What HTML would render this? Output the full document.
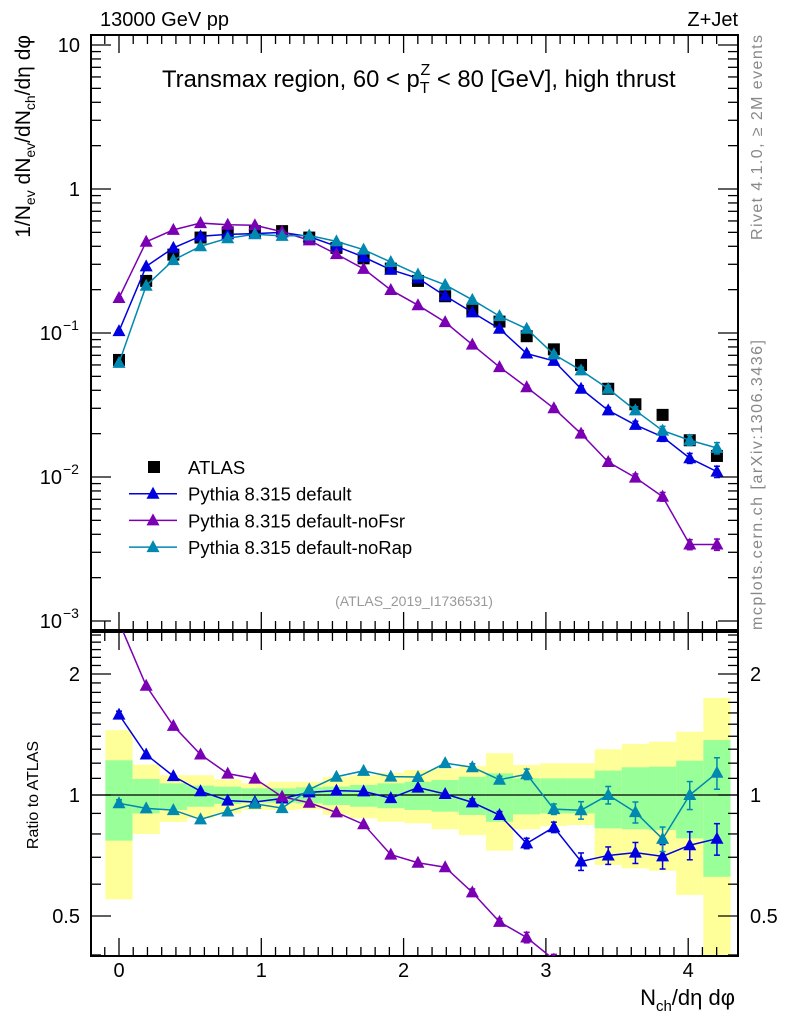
<!DOCTYPE html>
<html><head><meta charset="utf-8"><style>
html,body{margin:0;background:#fff;width:786px;height:1024px;overflow:hidden;font-family:"Liberation Sans",sans-serif}
svg{display:block;overflow:hidden}
svg text{font-family:"Liberation Sans","DejaVu Sans",sans-serif}
</style></head><body>
<svg id="c" width="786" height="1024" xmlns="http://www.w3.org/2000/svg"></svg>
<script>
const xCat=[0,1,2,3,4,5,6,7,8,9,10,11,12,13,14,15,16,17,18,19,20,21,22];
const binWidth=0.191;
const atlas=[0.065,0.23,0.35,0.46,0.50,0.51,0.51,0.46,0.39,0.33,0.28,0.23,0.18,0.145,0.12,0.095,0.077,0.060,0.041,0.032,0.027,0.018,0.014];
const pyDefault=[0.103,0.29,0.39,0.47,0.484,0.49,0.50,0.467,0.40,0.337,0.275,0.24,0.181,0.139,0.107,0.072,0.064,0.041,0.029,0.023,0.019,0.0135,0.0109];
const pyNoFsr=[0.175,0.43,0.52,0.58,0.565,0.56,0.505,0.44,0.353,0.279,0.199,0.156,0.119,0.083,0.058,0.042,0.030,0.020,0.0127,0.0099,0.0073,0.0034,0.0034];
const pyNoRap=[0.062,0.213,0.321,0.40,0.455,0.485,0.473,0.475,0.433,0.379,0.311,0.255,0.216,0.170,0.131,0.107,0.071,0.055,0.041,0.029,0.021,0.018,0.0159];
const mcRelErr=[0.02,0.01,0.01,0.01,0.01,0.01,0.01,0.01,0.01,0.01,0.01,0.01,0.01,0.02,0.02,0.03,0.03,0.05,0.05,0.06,0.07,0.08,0.09];
const yellowHi=[1.45,1.19,1.12,1.12,1.094,1.069,1.079,1.079,1.11,1.12,1.136,1.154,1.165,1.18,1.27,1.188,1.199,1.199,1.30,1.34,1.357,1.437,1.745];
const yellowLo=[0.55,0.80,0.857,0.875,0.90,0.918,0.918,0.921,0.892,0.875,0.858,0.850,0.822,0.795,0.727,0.822,0.837,0.842,0.67,0.657,0.648,0.564,0.3];
const greenHi=[1.22,1.096,1.069,1.055,1.049,1.039,1.039,1.045,1.049,1.059,1.069,1.079,1.09,1.11,1.132,1.10,1.10,1.10,1.15,1.172,1.176,1.217,1.37];
const greenLo=[0.77,0.90,0.918,0.935,0.95,0.957,0.957,0.953,0.944,0.935,0.927,0.918,0.909,0.892,0.858,0.895,0.90,0.90,0.826,0.822,0.818,0.78,0.626];
const xTicks=[0,1,2,3,4];
const mainTicks=[10,1,0.1,0.01,0.001];
const mainTickLabels=["10","1","10","10","10"];
const mainTickExp=["","","−1","−2","−3"];
const ratioTicks=[2,1,0.5];
const ratioTickLabels=["2","1","0.5"];

const NS="http://www.w3.org/2000/svg";
const svg=document.getElementById('c');
const L=91,R=738,T=35,MB=630,RT=632,RB=956;
const X=v=>119+142.3*v;
const Xi=i=>X(i*binWidth);
const Ym=v=>189-144*Math.log10(v);
const Yr=r=>Math.min(RB,Math.max(RT,795-402*Math.log10(r)));
function el(tag,attrs,parent){const e=document.createElementNS(NS,tag);for(const k in attrs)e.setAttribute(k,attrs[k]);(parent||svg).appendChild(e);return e;}
function txt(s,x,y,attrs,parent){const t=el('text',Object.assign({x:x,y:y},attrs),parent);t.textContent=s;return t;}

const defs=el('defs',{});
const cp=el('clipPath',{id:'rclip'},defs);
el('rect',{x:L,y:RT,width:R-L,height:RB-RT},cp);

const bands=el('g',{});


xCat.forEach(i=>{
 const x0=Math.max(L+1,Xi(i)-binWidth/2*142.3), x1=Math.min(R-1,Xi(i)+binWidth/2*142.3);
 const y1=el('rect',{x:x0,y:Yr(yellowHi[i]),width:x1-x0,height:Yr(yellowLo[i])-Yr(yellowHi[i]),fill:'#ffff99'},bands);
 
 
 const g1=el('rect',{x:x0,y:Yr(greenHi[i]),width:x1-x0,height:Yr(greenLo[i])-Yr(greenHi[i]),fill:'#99ff99'},bands);
 
 
});
const oneLine=el('line',{x1:L,x2:R,y1:Yr(1),y2:Yr(1),stroke:'#000','stroke-width':1.2});



const f1=el('rect',{x:L,y:T,width:R-L,height:MB-T,fill:'none',stroke:'#000','stroke-width':2});


const f2=el('rect',{x:L,y:RT,width:R-L,height:RB-RT,fill:'none',stroke:'#000','stroke-width':2});



const ax=el('g',{stroke:'#000','stroke-width':1.3});


for(let v=-0.2;v<=4.3;v+=0.1){
 const vv=Math.round(v*10)/10; const x=X(vv); if(x<L||x>R)continue;
 const major=Math.abs(vv-Math.round(vv))<1e-6; const len=major?18:9;
 [[T,1],[MB,-1],[RT,1],[RB,-1]].forEach(([y,d])=>el('line',{x1:x,x2:x,y1:y,y2:y+d*len},ax));
}
for(let d=-3;d<=1;d++){
 for(let m=1;m<10;m++){
  const v=m*Math.pow(10,d); const y=Ym(v); if(y<T||y>MB)continue;
  const len=m==1?20:10;
  el('line',{x1:L,x2:L+len,y1:y,y2:y},ax); el('line',{x1:R,x2:R-len,y1:y,y2:y},ax);
 }
}
for(let r=0.3;r<=2.6;r+=0.1){
 const rr=Math.round(r*10)/10;const y=795-402*Math.log10(rr); if(y<RT||y>RB)continue;
 const major=[0.5,1,2].includes(rr); const len=major?20:10;
 el('line',{x1:L,x2:L+len,y1:y,y2:y},ax); el('line',{x1:R,x2:R-len,y1:y,y2:y},ax);
}
xTicks.forEach(v=>{const t=txt(String(v),X(v),977,{'font-size':20,'text-anchor':'middle'});});
mainTicks.forEach((v,k)=>{
 const t=txt(mainTickLabels[k],mainTickExp[k]?62:80,Ym(v)+7,{'font-size':20,'text-anchor':'end'});
 
 
 if(mainTickExp[k]){const e=txt(mainTickExp[k],63,Ym(v)-3,{'font-size':14});}
});
ratioTicks.forEach((v,k)=>{
 const t=txt(ratioTickLabels[k],80,Yr(v)+7,{'font-size':20,'text-anchor':'end'});
 
 
 const t2=txt(ratioTickLabels[k],750,Yr(v)+7,{'font-size':20});
 
 
});

function tri(x,y,c,p){return el('polygon',{points:`${x},${y-7} ${x-6.5},${y+5} ${x+6.5},${y+5}`,fill:c},p);}
function series(vals,color,name){
 const g=el('g',{});
 
 
 const pts=vals.map((v,i)=>[Xi(i),Ym(v)]);
 el('polyline',{points:pts.map(p=>p.join(',')).join(' '),fill:'none',stroke:color,'stroke-width':1.5},g);
 vals.forEach((v,i)=>{
  const e=mcRelErr[i]; if(e>0.015){const y1=Ym(v*(1+e)),y2=Ym(v*(1-e));const x=Xi(i);
   el('line',{x1:x,x2:x,y1:y1,y2:y2,stroke:color,'stroke-width':1.5},g);
   el('line',{x1:x-3,x2:x+3,y1:y1,y2:y1,stroke:color,'stroke-width':1.5},g);
   el('line',{x1:x-3,x2:x+3,y1:y2,y2:y2,stroke:color,'stroke-width':1.5},g);}
  const m=tri(pts[i][0],pts[i][1],color,g);
  
  
 });
 const gr=el('g',{'clip-path':'url(#rclip)'});
 
 
 const rp=vals.map((v,i)=>[Xi(i),795-402*Math.log10(v/atlas[i])]);
 el('polyline',{points:rp.map(p=>p.join(',')).join(' '),fill:'none',stroke:color,'stroke-width':1.5},gr);
 vals.forEach((v,i)=>{
  const r=v/atlas[i],e=mcRelErr[i],x=rp[i][0];
  if(e>0.015){const y1=795-402*Math.log10(r*(1+e)),y2=795-402*Math.log10(r*(1-e));
   el('line',{x1:x,x2:x,y1:y1,y2:y2,stroke:color,'stroke-width':1.5},gr);
   el('line',{x1:x-3,x2:x+3,y1:y1,y2:y1,stroke:color,'stroke-width':1.5},gr);
   el('line',{x1:x-3,x2:x+3,y1:y2,y2:y2,stroke:color,'stroke-width':1.5},gr);}
  const m=tri(x,rp[i][1],color,gr);
  
  
 });
}

const ga=el('g',{});


atlas.forEach((v,i)=>{
 const s=el('rect',{x:Xi(i)-6,y:Ym(v)-6,width:12,height:12,fill:'#000'},ga);
 
 
});
series(pyDefault,'#0000e0','pythia-default');
series(pyNoFsr,'#7b00b4','pythia-nofsr');
series(pyNoRap,'#0088b0','pythia-norap');

const lg=el('g',{});


const leg=[['ATLAS','#000',true],['Pythia 8.315 default','#0000e0'],['Pythia 8.315 default-noFsr','#7b00b4'],['Pythia 8.315 default-noRap','#0088b0']];
leg.forEach((e,k)=>{
 const y=467+26.7*k;
 const it=el('g',{},lg);
 
 
 if(e[2]) el('rect',{x:148,y:y-6,width:12,height:12,fill:'#000'},it);
 else {el('line',{x1:129,x2:177,y1:y,y2:y,stroke:e[1],'stroke-width':1.5},it);tri(153,y,e[1],it);}
 txt(e[0],188,y+7,{'font-size':18.5},it);
});
function lbl(s,x,y,a,name){const t=txt(s,x,y,a);return t;}
lbl('13000 GeV pp',100,26,{'font-size':20},'energy-label');
lbl('Z+Jet',738,26,{'font-size':20,'text-anchor':'end'},'process-label');
const ti=lbl('',162,87,{'font-size':23.8},'plot-title');
ti.innerHTML='Transmax region, 60 &lt; p<tspan font-size="16" dy="6">T</tspan><tspan font-size="16" dx="-9" dy="-18">Z</tspan><tspan dy="12"> &lt; 80 [GeV], high thrust</tspan>';
const xl=lbl('',735,1005,{'font-size':22,'text-anchor':'end'},'x-axis-title');
xl.innerHTML='N<tspan font-size="15" dy="6">ch</tspan><tspan dy="-6">/dη dφ</tspan>';
lbl('(ATLAS_2019_I1736531)',414,606,{'font-size':14,fill:'#999','text-anchor':'middle'},'analysis-id');
const yl=lbl('',0,0,{'font-size':21,'text-anchor':'end',transform:'translate(30,35) rotate(-90)'},'y-axis-title');
yl.innerHTML='1/N<tspan font-size="14" dy="5">ev</tspan><tspan dy="-5"> dN</tspan><tspan font-size="14" dy="5">ev</tspan><tspan dy="-5">/dN</tspan><tspan font-size="14" dy="5">ch</tspan><tspan dy="-5">/dη dφ</tspan>';
lbl('Ratio to ATLAS',0,0,{'font-size':16,'text-anchor':'middle',transform:'translate(38,795) rotate(-90)'},'ratio-axis-title');
lbl('Rivet 4.1.0, ≥ 2M events',0,0,{'font-size':16,fill:'#888','text-anchor':'end',textLength:205,transform:'translate(762,35) rotate(-90)'},'rivet-label');
lbl('mcplots.cern.ch [arXiv:1306.3436]',0,0,{'font-size':16,fill:'#888','text-anchor':'end',textLength:290,transform:'translate(762,340) rotate(-90)'},'mcplots-label');
</script>
</body></html>
